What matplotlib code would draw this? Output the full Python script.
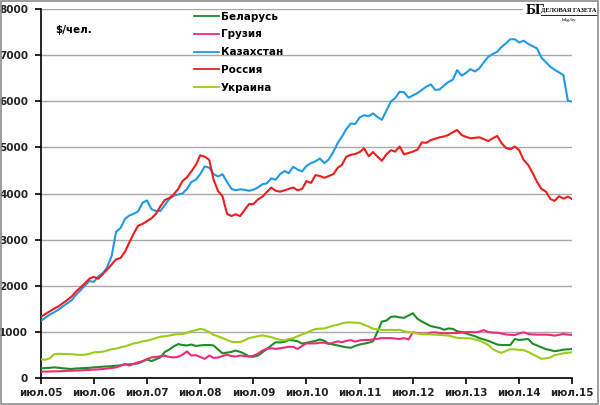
import matplotlib

matplotlib.use("Agg")
import matplotlib.pyplot as plt
import matplotlib.dates as mdates
import pandas as pd
from matplotlib.lines import Line2D
from matplotlib.patches import Rectangle

# monthly, июл.2005 .. июл.2015
MONTHS = pd.date_range("2005-07-01", "2015-07-01", freq="MS")

BELARUS = [
    200, 210, 215, 225, 215, 205, 195, 190, 200, 205, 210, 215, 225, 230, 240, 245,
    250, 260, 270, 285, 290, 300, 310, 350, 400, 360, 400, 440, 560, 610, 680, 730,
    710, 700, 720, 690, 700, 710, 710, 700, 610, 530, 545, 560, 590, 560, 520, 460,
    455, 480, 550, 620, 700, 770, 765, 780, 820, 810, 790, 740, 760, 780, 800, 830,
    800, 740, 720, 700, 680, 660, 650, 690, 720, 740, 760, 790, 1000, 1220, 1240, 1320,
    1330, 1310, 1300, 1350, 1400, 1280, 1220, 1170, 1120, 1100, 1080, 1040, 1070, 1060, 1010, 990,
    960, 930, 900, 860, 830, 800, 760, 720, 710, 710, 710, 840, 820, 830, 840, 740,
    700, 660, 620, 600, 575, 590, 610, 615, 625,
]
GEORGIA = [
    130, 132, 135, 138, 140, 145, 150, 152, 155, 160, 165, 170, 175, 180, 188, 200,
    210, 225, 260, 300, 265, 300, 335, 360, 400, 440, 450, 465, 480, 450, 440, 455,
    500, 570, 480, 490, 450, 410, 480, 430, 440, 470, 500, 470, 460, 480, 470, 460,
    475, 520, 590, 630, 640, 625, 640, 655, 670, 670, 625, 690, 745, 745, 745, 760,
    760, 735, 760, 790, 770, 800, 815, 785, 810, 820, 820, 830, 845, 860, 860, 860,
    850, 840, 860, 830, 985, 970, 960, 950, 980, 985, 970, 965, 965, 970, 970, 980,
    990, 995, 985, 1000, 1035, 990, 980, 975, 960, 940, 930, 928, 960, 985, 950, 940,
    935, 935, 935, 928, 915, 930, 950, 935, 930,
]
KAZAKHSTAN = [
    1230, 1300, 1370, 1420, 1480, 1550, 1620, 1690, 1800, 1900, 2000, 2100, 2080, 2200, 2270, 2400,
    2650, 3170, 3250, 3450, 3520, 3560, 3610, 3800, 3850, 3660, 3620, 3620, 3750, 3880, 3950, 3980,
    4000, 4100, 4250, 4300, 4420, 4590, 4560, 4420, 4370, 4420, 4250, 4100, 4070, 4090, 4080, 4060,
    4080, 4130, 4200, 4220, 4330, 4300, 4420, 4490, 4440, 4580, 4520, 4480, 4600, 4660, 4700, 4760,
    4660, 4740, 4900, 5100, 5230, 5400, 5520, 5510, 5650, 5700, 5680, 5740, 5660, 5600, 5800, 6000,
    6070, 6210, 6200, 6080, 6130, 6180, 6250, 6320, 6370, 6250, 6260, 6350, 6420, 6470, 6680, 6560,
    6620, 6700, 6650, 6720, 6850, 6970, 7030, 7080, 7180, 7260, 7350, 7350, 7280, 7320, 7250, 7200,
    7150, 6950, 6850, 6750, 6690, 6630, 6570, 6010, 6000,
]
RUSSIA = [
    1320, 1380, 1440, 1500, 1550, 1620, 1690, 1770, 1870, 1960, 2050, 2150, 2190, 2150, 2250, 2350,
    2460, 2570, 2600, 2740, 2930, 3130, 3300, 3340, 3400, 3460, 3560, 3720, 3860, 3900, 3980, 4100,
    4270, 4350, 4480, 4620, 4830, 4800, 4730, 4300, 4050, 3940, 3560, 3510, 3550, 3510, 3640, 3770,
    3770, 3870, 3930, 4030, 4130, 4060, 4040, 4070, 4100, 4130, 4070, 4100, 4270, 4230, 4400, 4380,
    4340, 4380, 4420, 4560, 4620, 4800, 4840, 4860, 4900, 4980, 4810, 4900, 4800, 4710, 4850, 4940,
    4910, 5020, 4850, 4880, 4910, 4950, 5110, 5100, 5160, 5190, 5220, 5240, 5270, 5330, 5380, 5270,
    5230, 5200, 5210, 5220, 5180, 5140, 5200, 5250, 5100, 4990, 4960, 5020, 4940, 4730, 4620, 4450,
    4250, 4100, 4040, 3880, 3840, 3940, 3890, 3930, 3880,
]
UKRAINE = [
    400, 390, 420, 510, 520, 515, 515, 510, 500, 495, 500, 520, 550, 555, 565, 590,
    620, 630, 660, 680, 710, 745, 760, 790, 805, 830, 860, 890, 900, 915, 935, 945,
    950, 975, 1010, 1030, 1060, 1040, 990, 930, 900, 860, 820, 780, 770, 775, 810, 860,
    880, 900, 920, 900, 880, 850, 820, 810, 840, 860, 900, 940, 975, 1020, 1055, 1065,
    1070, 1100, 1130, 1150, 1180, 1200, 1200, 1195, 1190, 1150, 1110, 1065, 1050, 1040, 1035, 1040,
    1035, 1040, 1010, 990, 975, 960, 950, 945, 940, 935, 930, 920, 915, 890, 865, 860,
    855, 855, 830, 805, 760, 710, 620, 570, 540, 580, 620, 615, 605, 600, 560, 510,
    460, 410, 420, 440, 490, 510, 530, 540, 555,
]

SERIES = [
    ("Беларусь", BELARUS, "#1e8c28"),
    ("Грузия", GEORGIA, "#f02a78"),
    ("Казахстан", KAZAKHSTAN, "#1f9ae6"),
    ("Россия", RUSSIA, "#ee1c1c"),
    ("Украина", UKRAINE, "#9ccc1a"),
]

YTICKS = [0, 1000, 2000, 3000, 4000, 5000, 6000, 7000, 8000]


def main():
    fig = plt.figure(figsize=(6.0, 4.05), dpi=100)
    ax = fig.add_axes([0.0678, 0.0674, 0.886, 0.9096])

    for name, values, color in SERIES:
        ax.plot(MONTHS, values, color=color, linewidth=1.5, label=name, zorder=3)

    ax.set_ylim(0, 8000)
    ax.set_yticks(YTICKS)
    ax.set_xlim(MONTHS[0], MONTHS[-1])
    ax.xaxis.set_major_locator(mdates.MonthLocator(bymonth=7))
    ax.set_xticklabels(["июл.%02d" % (y % 100) for y in range(2005, 2016)])

    ax.grid(axis="y", color="#a8a8a8", linewidth=1.0, zorder=0)
    ax.set_axisbelow(True)
    for side in ("top", "right"):
        ax.spines[side].set_visible(False)
    for side in ("left", "bottom"):
        ax.spines[side].set_linewidth(1.2)
        ax.spines[side].set_color("black")
    ax.tick_params(axis="both", direction="out", length=4, width=1.2, colors="black")
    ax.tick_params(axis="y", pad=5)
    for lbl in ax.get_xticklabels() + ax.get_yticklabels():
        lbl.set_fontsize(7.5)
        lbl.set_fontweight("bold")
        lbl.set_color("#222222")

    ax.text(0.027, 0.943, "\\$/чел.", transform=ax.transAxes, fontsize=7.5,
            fontweight="bold", ha="left", va="center")

    leg = ax.legend(loc="upper left", bbox_to_anchor=(0.281, 1.005), frameon=False,
                    fontsize=7.5, handlelength=2.4, handletextpad=0.15,
                    labelspacing=0.75, borderaxespad=0)
    for text in leg.get_texts():
        text.set_fontweight("bold")
    for line in leg.get_lines():
        line.set_linewidth(1.3)

    # logo in the top right corner
    fig.patches.append(Rectangle((0.872, 0.94), 0.125, 0.06, transform=fig.transFigure,
                                 facecolor="white", edgecolor="none", zorder=5))
    fig.text(0.876, 0.974, "БГ", fontsize=11, fontweight="bold", family="Liberation Serif",
             ha="left", va="center", zorder=6)
    fig.text(0.901, 0.974, "ДЕЛОВАЯ ГАЗЕТА", fontsize=4.5, fontweight="bold",
             family="Liberation Serif", ha="left", va="center", zorder=6)
    fig.add_artist(Line2D([0.901, 0.995], [0.963, 0.963], color="black", linewidth=0.6,
                          transform=fig.transFigure, zorder=6))
    fig.text(0.948, 0.951, "bdg.by", fontsize=3.8, family="Liberation Serif",
             ha="center", va="center", zorder=6)

    # outer frame
    fig.patches.append(Rectangle((0.002, 0.003), 0.995, 0.994, transform=fig.transFigure,
                                 facecolor="none", edgecolor="#8c8c8c", linewidth=1.2,
                                 zorder=10))

    fig.savefig("out.png", dpi=100)
    plt.close(fig)


if __name__ == "__main__":
    main()
